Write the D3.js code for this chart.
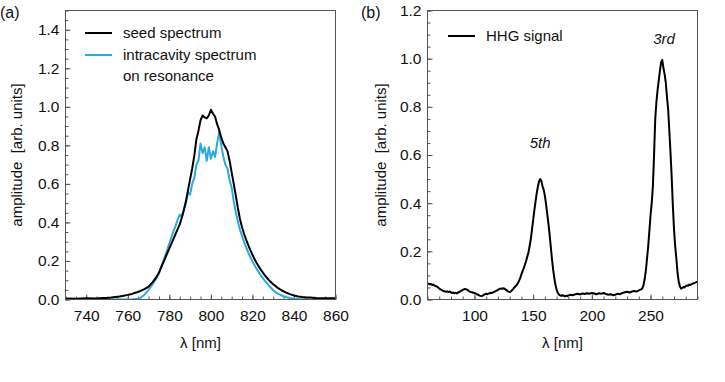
<!DOCTYPE html>
<html>
<head>
<meta charset="utf-8">
<script src="https://cdn.jsdelivr.net/npm/d3@7"></script>
<style>
  body { margin: 0; background: #fff; }
  svg { font-family: "Liberation Sans", Arial, sans-serif; }
  text { white-space: pre; }
</style>
</head>
<body>
<div id="chart"></div>
<script>
// panel (a): seed spectrum
const seedWl = [730, 735, 740, 745, 748, 750, 752, 754, 756, 758, 760, 762, 764, 766, 768, 770, 772, 774, 775, 776, 777, 778, 779,
  780, 781, 782, 783, 784, 785, 786, 787, 788, 789, 790, 791, 792, 793, 794, 795, 796, 797, 798, 799,
  800, 801, 802, 803, 804, 805, 806, 807, 808, 809, 810, 811, 812, 813, 814, 815, 816, 817, 818, 819,
  820, 821, 822, 823, 824, 826, 828, 830, 832, 834, 836, 838, 840, 842, 844, 846, 848, 850, 853, 856, 860];
const seedAmp = [0.005, 0.004, 0.006, 0.005, 0.008, 0.008, 0.010, 0.013, 0.016, 0.020, 0.024, 0.029, 0.036, 0.044, 0.054, 0.067, 0.090, 0.120, 0.140, 0.165, 0.190, 0.215, 0.240,
  0.265, 0.290, 0.315, 0.340, 0.365, 0.390, 0.425, 0.465, 0.512, 0.568, 0.625, 0.680, 0.745, 0.830, 0.875, 0.930, 0.955, 0.945, 0.940, 0.955,
  0.985, 0.965, 0.950, 0.910, 0.880, 0.840, 0.810, 0.790, 0.770, 0.720, 0.660, 0.600, 0.540, 0.475, 0.418, 0.375, 0.340, 0.310, 0.282, 0.256,
  0.232, 0.210, 0.190, 0.172, 0.155, 0.125, 0.100, 0.079, 0.062, 0.048, 0.037, 0.028, 0.021, 0.016, 0.013, 0.011, 0.010, 0.008, 0.007, 0.007, 0.006];

// panel (a): intracavity spectrum on resonance
const cavWl = [750, 755, 760, 762, 764, 766, 768, 770, 771, 772, 773, 774, 775, 776, 777, 778, 779,
  780, 781, 782, 783, 784, 785, 786, 787, 788, 789, 790, 791, 792, 793, 794, 795, 796, 797, 798, 799,
  800, 801, 802, 803, 804, 805, 806, 807, 808, 809, 810, 811, 812, 813, 814, 815, 816, 817, 818, 819,
  820, 821, 822, 823, 824, 826, 828, 830, 832, 834, 836, 838, 840, 842, 845, 848, 852, 856, 860];
const cavAmp = [0.0, 0.0, 0.0, 0.0, 0.002, 0.008, 0.025, 0.050, 0.065, 0.080, 0.098, 0.115, 0.135, 0.165, 0.195, 0.228, 0.258,
  0.292, 0.322, 0.355, 0.382, 0.415, 0.440, 0.428, 0.468, 0.500, 0.555, 0.545, 0.600, 0.630, 0.700, 0.720, 0.810, 0.760, 0.790, 0.720, 0.790,
  0.730, 0.770, 0.740, 0.810, 0.870, 0.800, 0.740, 0.700, 0.680, 0.620, 0.580, 0.510, 0.450, 0.405, 0.362, 0.330, 0.298, 0.270, 0.243, 0.220,
  0.198, 0.178, 0.160, 0.142, 0.126, 0.097, 0.072, 0.048, 0.032, 0.021, 0.013, 0.008, 0.004, 0.002, 0.001, 0.0, 0.0, 0.0, 0.0];

// panel (b): HHG signal
const hhgWl = [60, 61, 62, 63, 64, 65, 66, 67, 68, 69, 70, 71, 72, 73, 74, 75, 76, 77, 78, 79,
  80, 81, 82, 83, 84, 85, 86, 87, 88, 89, 90, 91, 92, 93, 94, 95, 96, 97, 98, 99,
  100, 101, 102, 103, 104, 105, 106, 107, 108, 109, 110, 111, 112, 113, 114, 115, 116, 117, 118, 119,
  120, 121, 122, 123, 124, 125, 126, 127, 128, 129, 130, 131, 132, 133, 134, 135, 136, 137, 138, 139,
  140, 141, 142, 143, 144, 145, 146, 147, 148, 149, 150, 151, 152, 153, 154, 155, 156, 157, 158, 159,
  160, 161, 162, 163, 164, 165, 166, 167, 168, 169, 170, 171, 172, 173, 174, 175, 176, 177, 178, 179,
  180, 182, 184, 186, 188, 190, 192, 194, 196, 198, 200, 202, 204, 206, 208, 210, 212, 214, 216, 218,
  220, 222, 224, 226, 228, 230, 232, 234, 236, 238, 240, 242, 243, 244, 245, 246, 247, 248, 249,
  250, 251, 252, 253, 254, 255, 256, 257, 258, 259, 260, 261, 262, 263, 264, 265, 266, 267, 268, 269,
  270, 271, 272, 273, 274, 275, 276, 277, 278, 279, 280, 281, 282, 283, 284, 285, 286, 287, 288, 289, 290];
const hhgAmp = [0.065, 0.066, 0.063, 0.064, 0.060, 0.062, 0.058, 0.055, 0.054, 0.050, 0.046, 0.042, 0.040, 0.036, 0.035, 0.033, 0.032, 0.034, 0.031, 0.033,
  0.030, 0.027, 0.029, 0.026, 0.028, 0.025, 0.029, 0.031, 0.034, 0.037, 0.040, 0.042, 0.044, 0.042, 0.040, 0.036, 0.033, 0.031, 0.030, 0.028,
  0.027, 0.025, 0.022, 0.020, 0.017, 0.015, 0.014, 0.016, 0.019, 0.022, 0.024, 0.022, 0.025, 0.026, 0.028, 0.027, 0.030, 0.032, 0.035, 0.037,
  0.040, 0.043, 0.045, 0.046, 0.044, 0.047, 0.043, 0.040, 0.036, 0.033, 0.031, 0.034, 0.038, 0.044, 0.050, 0.055, 0.060, 0.068, 0.078, 0.090,
  0.104, 0.118, 0.130, 0.145, 0.160, 0.178, 0.195, 0.222, 0.250, 0.290, 0.330, 0.370, 0.405, 0.440, 0.468, 0.490, 0.500, 0.492, 0.470, 0.455,
  0.430, 0.395, 0.355, 0.315, 0.270, 0.220, 0.170, 0.125, 0.090, 0.060, 0.040, 0.028, 0.020, 0.017, 0.015, 0.018, 0.015, 0.013, 0.016, 0.014,
  0.017, 0.020, 0.018, 0.022, 0.024, 0.021, 0.025, 0.023, 0.026, 0.024, 0.027, 0.025, 0.022, 0.026, 0.024, 0.027, 0.023, 0.020, 0.022, 0.018,
  0.020, 0.024, 0.022, 0.027, 0.030, 0.032, 0.029, 0.033, 0.035, 0.033, 0.038, 0.042, 0.046, 0.060, 0.085, 0.120, 0.170, 0.220, 0.285,
  0.350, 0.400, 0.470, 0.600, 0.750, 0.820, 0.870, 0.910, 0.950, 0.985, 0.995, 0.960, 0.935, 0.900, 0.840, 0.790, 0.700, 0.610, 0.510, 0.390,
  0.290, 0.220, 0.170, 0.110, 0.075, 0.055, 0.045, 0.048, 0.052, 0.050, 0.056, 0.058, 0.057, 0.062, 0.060, 0.064, 0.066, 0.068, 0.070, 0.072, 0.074];

const ticksA_x = [740, 760, 780, 800, 820, 840, 860];
const ticksA_y = [0, 0.2, 0.4, 0.6, 0.8, 1.0, 1.2, 1.4];
const ticksB_x = [100, 150, 200, 250];
const ticksB_y = [0, 0.2, 0.4, 0.6, 0.8, 1.0, 1.2];

// harmonic order labels (anchor in data units)
const harmonicLabels = [
  { wl: 261.5, amp: 1.06, text: "3rd" },
  { wl: 156, amp: 0.63, text: "5th" }
];

const width = 725;
const height = 382;
const black = "#000";
const blue = "#29abe2";
const frameColor = "#555";

const svg = d3.select("#chart").append("svg")
  .attr("width", width)
  .attr("height", height);

function zip(xs, ys) {
  return xs.map((x, i) => ({ x: x, y: ys[i] }));
}

function range(a, b, step) {
  return d3.range(Math.round((b - a) / step) + 1).map(i => +(a + i * step).toFixed(4));
}

function drawPanel(p) {
  const x = d3.scaleLinear().domain(p.xDomain).range([p.left, p.right]);
  const y = d3.scaleLinear().domain(p.yDomain).range([p.bottom, p.top]);

  // minor ticks
  svg.append("g")
    .attr("transform", `translate(0,${p.bottom})`)
    .call(d3.axisBottom(x).tickValues(p.xMinor).tickSize(-3).tickFormat(""))
    .call(g => g.select(".domain").remove())
    .call(g => g.selectAll("line").attr("stroke", frameColor));
  svg.append("g")
    .attr("transform", `translate(${p.left},0)`)
    .call(d3.axisLeft(y).tickValues(p.yMinor).tickSize(-3).tickFormat(""))
    .call(g => g.select(".domain").remove())
    .call(g => g.selectAll("line").attr("stroke", frameColor));

  // major ticks
  svg.append("g")
    .attr("transform", `translate(0,${p.bottom})`)
    .call(d3.axisBottom(x).tickValues(p.xTicks).tickSize(-5).tickPadding(10).tickFormat(d3.format("d")))
    .call(g => g.select(".domain").remove())
    .call(g => g.selectAll("line").attr("stroke", frameColor))
    .call(g => g.selectAll("text").attr("font-size", 15.5).attr("fill", "#111")
      .attr("font-family", "Liberation Sans, Arial, sans-serif"));
  svg.append("g")
    .attr("transform", `translate(${p.left},0)`)
    .call(d3.axisLeft(y).tickValues(p.yTicks).tickSize(-5).tickPadding(6).tickFormat(d3.format(".1f")))
    .call(g => g.select(".domain").remove())
    .call(g => g.selectAll("line").attr("stroke", frameColor))
    .call(g => g.selectAll("text").attr("font-size", 15.5).attr("fill", "#111")
      .attr("font-family", "Liberation Sans, Arial, sans-serif"));

  // data lines
  const line = d3.line().x(d => x(d.x)).y(d => y(d.y));
  const clipId = "clip" + p.name;
  svg.append("clipPath").attr("id", clipId)
    .append("rect")
    .attr("x", p.left).attr("y", p.top)
    .attr("width", p.right - p.left).attr("height", p.bottom - p.top);
  p.series.forEach(s => {
    svg.append("path")
      .datum(s.data)
      .attr("clip-path", `url(#${clipId})`)
      .attr("fill", "none")
      .attr("stroke", s.color)
      .attr("stroke-width", 2)
      .attr("stroke-linejoin", "round")
      .attr("d", line);
  });

  // frame
  svg.append("rect")
    .attr("x", p.left).attr("y", p.top)
    .attr("width", p.right - p.left).attr("height", p.bottom - p.top)
    .attr("fill", "none")
    .attr("stroke", frameColor)
    .attr("stroke-width", 1);

  // axis labels
  svg.append("text")
    .attr("x", (p.left + p.right) / 2).attr("y", 348)
    .attr("text-anchor", "middle")
    .attr("font-size", 15)
    .attr("fill", "#111")
    .text("λ [nm]");
  svg.append("text")
    .attr("transform", `translate(${p.yLabelX},${(p.top + p.bottom) / 2}) rotate(-90)`)
    .attr("text-anchor", "middle")
    .attr("dy", "0.35em")
    .attr("font-size", 15)
    .attr("fill", "#111")
    .text("amplitude  [arb. units]");

  // panel letter
  svg.append("text")
    .attr("x", p.letterX).attr("y", 18)
    .attr("font-size", 16)
    .attr("fill", "#111")
    .text(p.letter);

  // legend
  p.legend.forEach(l => {
    if (l.color) {
      svg.append("line")
        .attr("x1", l.x).attr("x2", l.x + 27)
        .attr("y1", l.y - 5).attr("y2", l.y - 5)
        .attr("stroke", l.color)
        .attr("stroke-width", 2);
    }
    svg.append("text")
      .attr("x", l.x + 38).attr("y", l.y)
      .attr("font-size", 15)
      .attr("fill", "#111")
      .text(l.label);
  });

  return { x, y };
}

drawPanel({
  name: "a",
  letter: "(a)", letterX: 0,
  left: 65.5, right: 335.5, top: 10.5, bottom: 299.5,
  xDomain: [730, 860], yDomain: [0, 1.5],
  xTicks: ticksA_x, yTicks: ticksA_y,
  xMinor: range(730, 860, 5), yMinor: range(0, 1.5, 0.05),
  yLabelX: 17,
  series: [
    { data: zip(cavWl, cavAmp), color: blue },
    { data: zip(seedWl, seedAmp), color: black }
  ],
  legend: [
    { x: 85, y: 38, color: black, label: "seed spectrum" },
    { x: 85, y: 60, color: blue, label: "intracavity spectrum" },
    { x: 85, y: 81, color: null, label: "on resonance" }
  ]
});

const b = drawPanel({
  name: "b",
  letter: "(b)", letterX: 361,
  left: 427.5, right: 697.5, top: 10.5, bottom: 299.5,
  xDomain: [60, 290], yDomain: [0, 1.2],
  xTicks: ticksB_x, yTicks: ticksB_y,
  xMinor: range(60, 290, 10), yMinor: range(0, 1.2, 0.05),
  yLabelX: 381,
  series: [
    { data: zip(hhgWl, hhgAmp), color: black }
  ],
  legend: [
    { x: 448, y: 41, color: black, label: "HHG signal" }
  ]
});

harmonicLabels.forEach(h => {
  svg.append("text")
    .attr("x", b.x(h.wl))
    .attr("y", b.y(h.amp))
    .attr("text-anchor", "middle")
    .attr("font-size", 15)
    .attr("font-style", "italic")
    .attr("fill", "#111")
    .text(h.text);
});
</script>
</body>
</html>
